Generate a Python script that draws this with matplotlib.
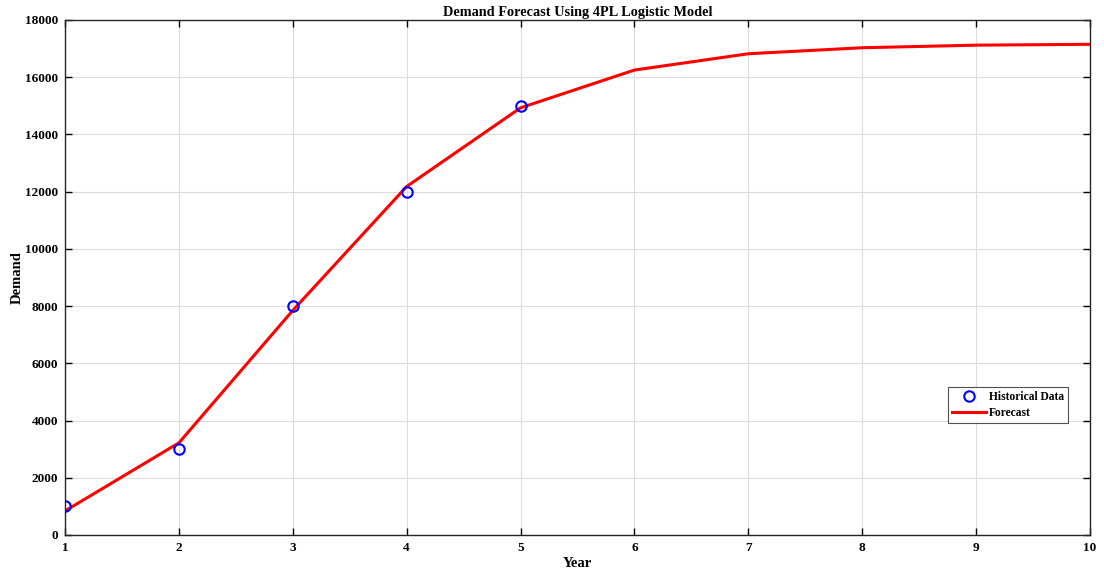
import numpy as np
import matplotlib
matplotlib.use("Agg")
import matplotlib.pyplot as plt

# Historical observations
hist_years = [1, 2, 3, 4, 5]
hist_demand = [1000, 3000, 8000, 12000, 15000]

# 4PL forecast curve
fc_years = [1, 2, 3, 4, 5, 6, 7, 8, 9, 10]
fc_demand = [840, 3220, 7850, 12180, 14930, 16250, 16820, 17030, 17120, 17150]

plt.rcParams['font.family'] = ['Liberation Serif', 'DejaVu Serif']
plt.rcParams['font.weight'] = 'bold'

fig = plt.figure(figsize=(11.04, 5.76), dpi=100)
ax = fig.add_axes([0.0589, 0.0712, 0.9284, 0.8941])

ax.plot(hist_years, hist_demand, 'o', color='#0000ff', markerfacecolor='none',
        markersize=7.5, markeredgewidth=1.5, label='Historical Data', zorder=3)
ax.plot(fc_years, fc_demand, '-', color='#ff0000', linewidth=2.2, label='Forecast', zorder=2)

ax.set_xlim(1, 10)
ax.set_ylim(0, 18000)
ax.set_xticks(range(1, 11))
ax.set_yticks(range(0, 18001, 2000))
ax.tick_params(direction='in', top=True, right=True, length=5, width=1,
               labelsize=9.5, pad=5)
for lbl in ax.get_xticklabels() + ax.get_yticklabels():
    lbl.set_fontweight('bold')
ax.grid(True, color='#dcdcdc', linewidth=0.8)
for s in ax.spines.values():
    s.set_linewidth(1.0)
    s.set_color('#262626')

ax.set_xlabel('Year', fontsize=10.5, fontweight='bold', labelpad=2)
ax.set_ylabel('Demand', fontsize=10.5, fontweight='bold', labelpad=1)
ax.set_title('Demand Forecast Using 4PL Logistic Model', fontsize=10.3,
             fontweight='bold', pad=3)

leg = ax.legend(loc='lower left', bbox_to_anchor=(0.856, 0.207), fontsize=8.3,
                frameon=True, fancybox=False, edgecolor='#262626',
                borderpad=0.35, handlelength=2.9, handletextpad=0.3, labelspacing=0.3)
leg.get_frame().set_linewidth(0.8)
for t in leg.get_texts():
    t.set_fontweight('bold')

fig.savefig('out.png', dpi=100, facecolor='white')
